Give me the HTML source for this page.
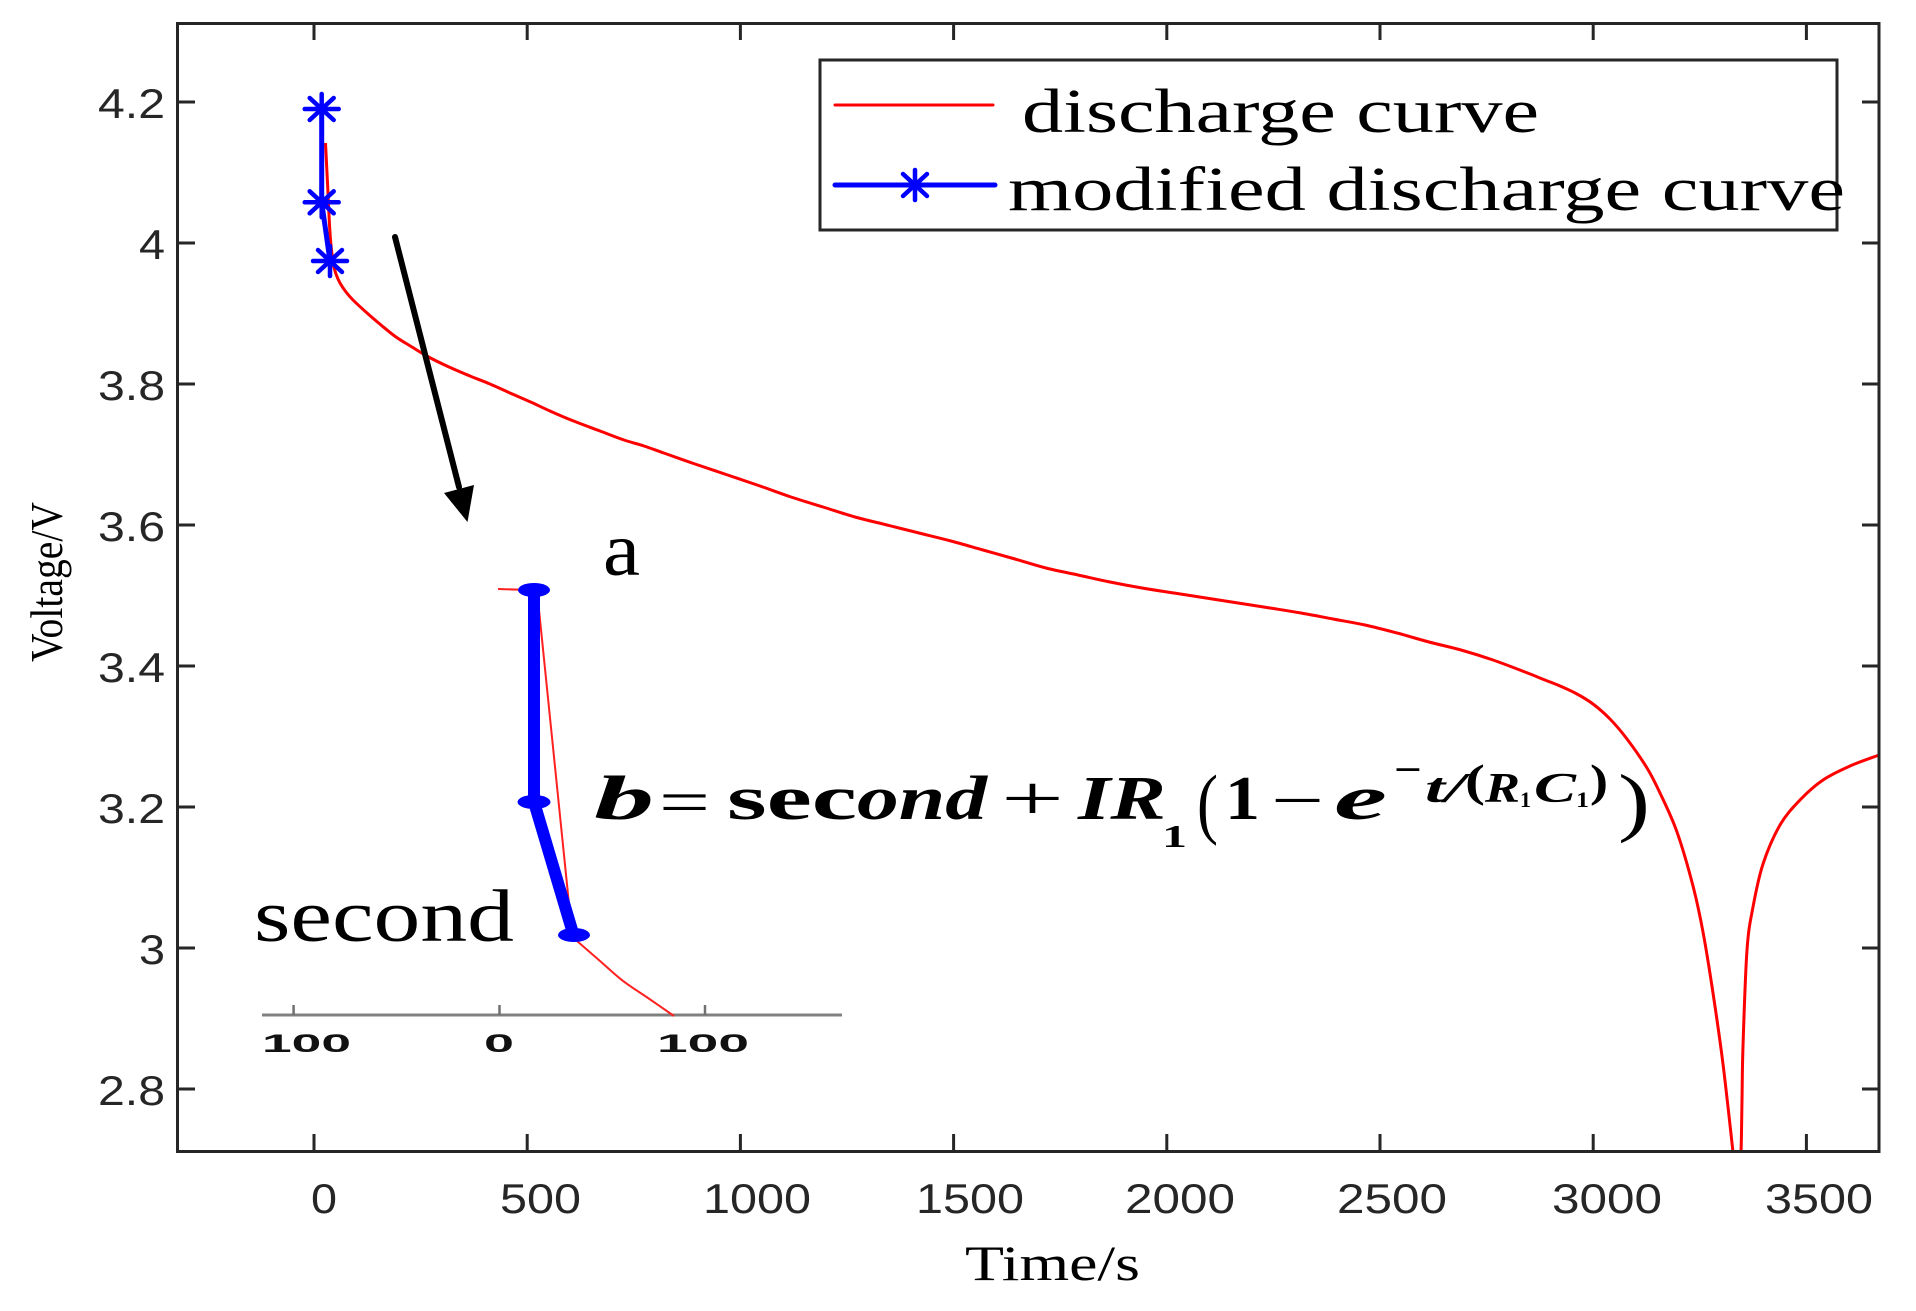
<!DOCTYPE html>
<html>
<head>
<meta charset="utf-8">
<style>
html,body{margin:0;padding:0;background:#fff;}
svg{display:block;}
.tk{font-family:"Liberation Sans",Arial,sans-serif;font-size:42px;fill:#262626;}
.sf{font-family:"Liberation Serif","Times New Roman",serif;fill:#000;}
</style>
</head>
<body>
<svg width="1916" height="1311" viewBox="0 0 1916 1311" xmlns="http://www.w3.org/2000/svg">
<defs>
<clipPath id="pa"><rect x="177" y="23" width="1702" height="1128"/></clipPath>
<g id="ast" stroke="#0000ff" stroke-width="4.5" stroke-linecap="round">
<line x1="-17" y1="0" x2="17" y2="0"/>
<line x1="0" y1="-15" x2="0" y2="15"/>
<line x1="-12" y1="-11" x2="12" y2="11"/>
<line x1="-12" y1="11" x2="12" y2="-11"/>
</g>
</defs>
<rect width="1916" height="1311" fill="#fff"/>

<!-- red discharge curve -->
<g clip-path="url(#pa)" fill="none" stroke="#ff0000" stroke-width="3" stroke-linejoin="round">
<path id="red1" d="M325.5,143 L327.7,187 L330,233 L333,262 L336,274 L340,283 L346,292 L353,300 L367,313 L381,325 L396,337 L412,347 L428.6,357 L449,367 L470,376 L490,384 L510,393 L530.6,402 L550,411 L571,420 L600,431 L624,440 L644,446 L663.8,453 L695,464 L727.6,475 L760,486 L791,497 L823,507 L855,517 L887,525 L919,533 L951,541 L983,550 L1015,559 L1046,568 L1078,575 L1110,582 L1142,588 L1174,593 L1206,598 L1238,603 L1270,608 L1301,613 L1333,619 L1365,625 L1397,633 L1429,642 L1461,650 L1493,660 L1525,672 L1545,680 L1560,686 L1577,694 L1593,704 L1610,719 L1627,739 L1647,768 L1660,793 L1677,832 L1693,886 L1703,932 L1713,993 L1723,1064 L1733,1152 L1735,1170"/>
<path id="red2" d="M1739,1170 L1741,1152 L1742,1100 L1743,1046 L1747,950 L1753,907 L1763,864 L1780,825 L1800,800 L1823,780 L1850,766 L1879,755 L1890,751"/>
</g>

<!-- blue modified curve -->
<polyline points="321.7,109 321.7,202.3 330,261" fill="none" stroke="#0000ff" stroke-width="5" stroke-linejoin="round"/>
<use href="#ast" x="321.7" y="109"/>
<use href="#ast" x="321.7" y="202.3"/>
<use href="#ast" x="330" y="261"/>

<!-- axes frame -->
<rect x="177.5" y="23.5" width="1701.5" height="1128" fill="none" stroke="#262626" stroke-width="3"/>
<g stroke="#262626" stroke-width="3">
<line x1="314" y1="1151" x2="314" y2="1134"/><line x1="314" y1="23" x2="314" y2="40"/>
<line x1="527.2" y1="1151" x2="527.2" y2="1134"/><line x1="527.2" y1="23" x2="527.2" y2="40"/>
<line x1="740.4" y1="1151" x2="740.4" y2="1134"/><line x1="740.4" y1="23" x2="740.4" y2="40"/>
<line x1="953.6" y1="1151" x2="953.6" y2="1134"/><line x1="953.6" y1="23" x2="953.6" y2="40"/>
<line x1="1166.8" y1="1151" x2="1166.8" y2="1134"/><line x1="1166.8" y1="23" x2="1166.8" y2="40"/>
<line x1="1380" y1="1151" x2="1380" y2="1134"/><line x1="1380" y1="23" x2="1380" y2="40"/>
<line x1="1593.2" y1="1151" x2="1593.2" y2="1134"/><line x1="1593.2" y1="23" x2="1593.2" y2="40"/>
<line x1="1806.4" y1="1151" x2="1806.4" y2="1134"/><line x1="1806.4" y1="23" x2="1806.4" y2="40"/>
<line x1="177" y1="102" x2="195" y2="102"/><line x1="1879" y1="102" x2="1862" y2="102"/>
<line x1="177" y1="243" x2="195" y2="243"/><line x1="1879" y1="243" x2="1862" y2="243"/>
<line x1="177" y1="384" x2="195" y2="384"/><line x1="1879" y1="384" x2="1862" y2="384"/>
<line x1="177" y1="525" x2="195" y2="525"/><line x1="1879" y1="525" x2="1862" y2="525"/>
<line x1="177" y1="666" x2="195" y2="666"/><line x1="1879" y1="666" x2="1862" y2="666"/>
<line x1="177" y1="807" x2="195" y2="807"/><line x1="1879" y1="807" x2="1862" y2="807"/>
<line x1="177" y1="948" x2="195" y2="948"/><line x1="1879" y1="948" x2="1862" y2="948"/>
<line x1="177" y1="1089" x2="195" y2="1089"/><line x1="1879" y1="1089" x2="1862" y2="1089"/>
</g>

<!-- y tick labels -->
<text class="tk" x="98" y="118" textLength="67" lengthAdjust="spacingAndGlyphs">4.2</text>
<text class="tk" x="139" y="259" textLength="26" lengthAdjust="spacingAndGlyphs">4</text>
<text class="tk" x="98" y="400" textLength="67" lengthAdjust="spacingAndGlyphs">3.8</text>
<text class="tk" x="98" y="541" textLength="67" lengthAdjust="spacingAndGlyphs">3.6</text>
<text class="tk" x="98" y="682" textLength="67" lengthAdjust="spacingAndGlyphs">3.4</text>
<text class="tk" x="98" y="823" textLength="67" lengthAdjust="spacingAndGlyphs">3.2</text>
<text class="tk" x="139" y="964" textLength="26" lengthAdjust="spacingAndGlyphs">3</text>
<text class="tk" x="98" y="1105" textLength="67" lengthAdjust="spacingAndGlyphs">2.8</text>

<!-- x tick labels -->
<text class="tk" x="311" y="1213" textLength="26" lengthAdjust="spacingAndGlyphs">0</text>
<text class="tk" x="500" y="1213" textLength="81" lengthAdjust="spacingAndGlyphs">500</text>
<text class="tk" x="703" y="1213" textLength="108" lengthAdjust="spacingAndGlyphs">1000</text>
<text class="tk" x="916" y="1213" textLength="108" lengthAdjust="spacingAndGlyphs">1500</text>
<text class="tk" x="1125" y="1213" textLength="110" lengthAdjust="spacingAndGlyphs">2000</text>
<text class="tk" x="1337" y="1213" textLength="110" lengthAdjust="spacingAndGlyphs">2500</text>
<text class="tk" x="1552" y="1213" textLength="110" lengthAdjust="spacingAndGlyphs">3000</text>
<text class="tk" x="1765" y="1213" textLength="108" lengthAdjust="spacingAndGlyphs">3500</text>

<!-- axis labels -->
<text class="sf" x="965" y="1280" font-size="50" textLength="175" lengthAdjust="spacingAndGlyphs" fill="#262626">Time/s</text>
<text class="sf" font-size="45" transform="translate(62,662) rotate(-90)" x="0" y="0" textLength="160" lengthAdjust="spacingAndGlyphs" fill="#262626">Voltage/V</text>

<!-- legend -->
<rect x="820" y="60" width="1017" height="170" fill="#fff" stroke="#262626" stroke-width="3"/>
<line x1="835" y1="105" x2="993" y2="105" stroke="#ff0000" stroke-width="3" stroke-linecap="round"/>
<line x1="835" y1="185" x2="995" y2="185" stroke="#0000ff" stroke-width="5" stroke-linecap="round"/>
<use href="#ast" x="915" y="185"/>
<text class="sf" x="1022" y="132" font-size="62" textLength="517" lengthAdjust="spacingAndGlyphs">discharge curve</text>
<text class="sf" x="1008" y="210" font-size="62" textLength="837" lengthAdjust="spacingAndGlyphs">modified discharge curve</text>

<!-- arrow -->
<line x1="395" y1="237" x2="459" y2="487" stroke="#000" stroke-width="6" stroke-linecap="round"/>
<polygon points="444,493 474,485 467.5,522" fill="#000"/>

<!-- inset -->
<line x1="262" y1="1015" x2="842" y2="1015" stroke="#808080" stroke-width="3"/>
<g stroke="#707070" stroke-width="2.5">
<line x1="293.6" y1="1005" x2="293.6" y2="1015"/>
<line x1="499.5" y1="1005" x2="499.5" y2="1015"/>
<line x1="705" y1="1005" x2="705" y2="1015"/>
</g>
<text x="262" y="1052" style="font-family:'Liberation Sans',Arial,sans-serif" font-weight="bold" font-size="25" fill="#111" textLength="89" lengthAdjust="spacingAndGlyphs">100</text>
<text x="484" y="1052" style="font-family:'Liberation Sans',Arial,sans-serif" font-weight="bold" font-size="25" fill="#111" textLength="30" lengthAdjust="spacingAndGlyphs">0</text>
<text x="657" y="1052" style="font-family:'Liberation Sans',Arial,sans-serif" font-weight="bold" font-size="25" fill="#111" textLength="92" lengthAdjust="spacingAndGlyphs">100</text>

<g fill="none" stroke="#ff2020" stroke-width="2">
<line x1="498" y1="589" x2="530" y2="590"/>
<polyline points="537,590 540.4,623.6 571,923.6"/>
<path id="red3" d="M577,941 L600,961 L622.7,980.7 L648,998 L674,1016"/>
</g>
<polyline points="534,590 534,802 573.5,935" fill="none" stroke="#0000ff" stroke-width="12" stroke-linejoin="round"/>
<ellipse cx="534" cy="590" rx="16" ry="7" fill="#0000ff"/>
<ellipse cx="534" cy="802" rx="16.5" ry="7" fill="#0000ff"/>
<ellipse cx="574" cy="935" rx="16" ry="7" fill="#0000ff"/>

<text class="sf" x="603" y="575" font-size="76" textLength="37" lengthAdjust="spacingAndGlyphs">a</text>
<text class="sf" x="254" y="941" font-size="74" textLength="260" lengthAdjust="spacingAndGlyphs">second</text>

<!-- formula -->
<g class="sf">
<text x="594" y="819" font-size="62" font-weight="bold" font-style="italic" textLength="60" lengthAdjust="spacingAndGlyphs">b</text>
<text x="659" y="823" font-size="62" textLength="51" lengthAdjust="spacingAndGlyphs">=</text>
<text x="727" y="819" font-size="62" font-weight="bold" textLength="130" lengthAdjust="spacingAndGlyphs">sec</text>
<text x="857" y="819" font-size="62" font-weight="bold" font-style="italic" textLength="130" lengthAdjust="spacingAndGlyphs">ond</text>
<text x="1001" y="819" font-size="62" textLength="63" lengthAdjust="spacingAndGlyphs">+</text>
<text x="1078" y="819" font-size="62" font-weight="bold" font-style="italic" textLength="88" lengthAdjust="spacingAndGlyphs">IR</text>
<text x="1162" y="847" font-size="32" font-weight="bold" textLength="25" lengthAdjust="spacingAndGlyphs">1</text>
<text x="1197" y="829" font-size="78" textLength="21" lengthAdjust="spacingAndGlyphs">(</text>
<text x="1225" y="819" font-size="62" font-weight="bold" textLength="35" lengthAdjust="spacingAndGlyphs">1</text>
<text x="1271" y="821" font-size="62" textLength="53" lengthAdjust="spacingAndGlyphs">−</text>
<text x="1334" y="819" font-size="62" font-weight="bold" font-style="italic" textLength="53" lengthAdjust="spacingAndGlyphs">e</text>
<text x="1394" y="783" font-size="40" font-weight="bold" textLength="28" lengthAdjust="spacingAndGlyphs">−</text>
<text x="1425" y="802" font-size="42" font-weight="bold" font-style="italic" textLength="40" lengthAdjust="spacingAndGlyphs">t/</text>
<text x="1465" y="796" font-size="46" font-weight="bold" textLength="20" lengthAdjust="spacingAndGlyphs">(</text>
<text x="1485" y="802" font-size="42" font-weight="bold" font-style="italic" textLength="35" lengthAdjust="spacingAndGlyphs">R</text>
<text x="1520" y="807" font-size="22" font-weight="bold" textLength="11" lengthAdjust="spacingAndGlyphs">1</text>
<text x="1534" y="802" font-size="42" font-weight="bold" font-style="italic" textLength="42" lengthAdjust="spacingAndGlyphs">C</text>
<text x="1576" y="807" font-size="22" font-weight="bold" textLength="13" lengthAdjust="spacingAndGlyphs">1</text>
<text x="1590" y="796" font-size="46" font-weight="bold" textLength="18" lengthAdjust="spacingAndGlyphs">)</text>
<text x="1618" y="827" font-size="76" textLength="32" lengthAdjust="spacingAndGlyphs">)</text>
</g>
</svg>
<script>
(function(){
  function smooth(id){
    var el=document.getElementById(id);
    if(!el) return;
    var d=el.getAttribute('d');
    var nums=d.replace(/[ML]/g,' ').trim().split(/[\s,]+/).map(Number);
    var p=[];
    for(var i=0;i+1<nums.length;i+=2){p.push([nums[i],nums[i+1]]);}
    if(p.length<3) return;
    var s='M'+p[0][0]+','+p[0][1];
    for(var i=0;i<p.length-1;i++){
      var p0=p[i-1]||p[i],p1=p[i],p2=p[i+1],p3=p[i+2]||p2;
      var c1x=p1[0]+(p2[0]-p0[0])/6,c1y=p1[1]+(p2[1]-p0[1])/6;
      var c2x=p2[0]-(p3[0]-p1[0])/6,c2y=p2[1]-(p3[1]-p1[1])/6;
      s+=' C'+c1x.toFixed(2)+','+c1y.toFixed(2)+' '+c2x.toFixed(2)+','+c2y.toFixed(2)+' '+p2[0]+','+p2[1];
    }
    el.setAttribute('d',s);
  }
  try{smooth('red1');smooth('red2');smooth('red3');}catch(e){}
})();
</script>
</body>
</html>
